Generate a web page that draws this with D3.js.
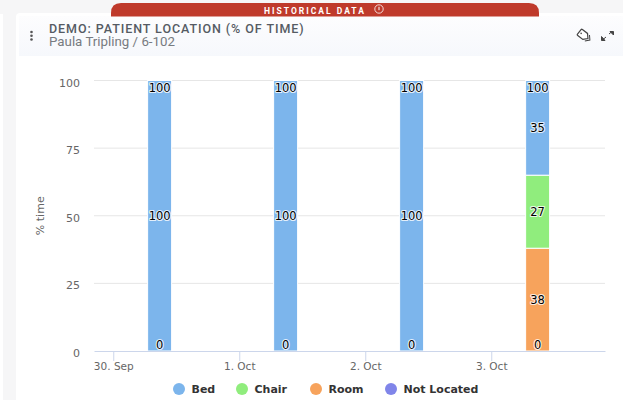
<!DOCTYPE html>
<html>
<head>
<meta charset="utf-8">
<script src="https://d3js.org/d3.v7.min.js"></script>
<style>
  html, body { margin: 0; padding: 0; background: #fff; overflow: hidden; }
</style>
</head>
<body>
<div id="my_dataviz"></div>
<script>
// chart data
const barTimes = [
  Date.UTC(2023, 8, 30, 8, 50),
  Date.UTC(2023, 9, 1, 8, 50),
  Date.UTC(2023, 9, 2, 8, 50),
  Date.UTC(2023, 9, 3, 8, 50)
];
const tickTimes = [
  Date.UTC(2023, 8, 30),
  Date.UTC(2023, 9, 1),
  Date.UTC(2023, 9, 2),
  Date.UTC(2023, 9, 3)
];
const tickLabels = ["30. Sep", "1. Oct", "2. Oct", "3. Oct"];
const bed = [100, 100, 100, 35];
const chair = [0, 0, 0, 27];
const room = [0, 0, 0, 38];
const notLocated = [0, 0, 0, 0];
const totals = [100, 100, 100, 100];
const yTicks = [0, 25, 50, 75, 100];
const seriesNames = ["Bed", "Chair", "Room", "Not Located"];
const seriesColors = ["#7cb5ec", "#90ed7d", "#f7a35c", "#8085e9"];
const domainStart = Date.UTC(2023, 8, 29, 20, 20);
const domainEnd = Date.UTC(2023, 9, 3, 21, 40);

const W = 623, H = 400;
const margin = { top: 80.5, right: 18, bottom: 49, left: 94 },
  width = W - margin.left - margin.right,
  height = H - margin.top - margin.bottom;

const root = d3.select("#my_dataviz")
  .append("svg")
  .attr("width", W)
  .attr("height", H)
  .style("display", "block");

const defs = root.append("defs");
const grad = defs.append("linearGradient")
  .attr("id", "headerGrad")
  .attr("x1", 0).attr("y1", 0).attr("x2", 0).attr("y2", 1);
grad.append("stop").attr("offset", "0%").attr("stop-color", "#fdfdfe");
grad.append("stop").attr("offset", "100%").attr("stop-color", "#f6f8fc");

// page background and card
root.append("rect").attr("width", W).attr("height", H).attr("fill", "#f6f6f7");
root.append("rect").attr("width", 3).attr("y", 14).attr("height", H).attr("fill", "#ffffff");
root.append("rect").attr("x", 16).attr("y", 13).attr("width", W).attr("height", H)
  .attr("rx", 4).attr("fill", "#ffffff");
root.append("rect").attr("x", 19).attr("y", 16).attr("width", W).attr("height", 40)
  .attr("fill", "url(#headerGrad)");

// red banner on top of the card
root.append("path")
  .attr("d", "M111,16.5 V13 Q111,3 121,3 H529 Q539,3 539,13 V16.5 Z")
  .attr("fill", "#bf3a2b");
root.append("text")
  .attr("x", 315).attr("y", 13.5)
  .attr("text-anchor", "middle")
  .attr("fill", "#fff")
  .style("font", "bold 8.5px Roboto")
  .style("letter-spacing", "2px")
  .text("HISTORICAL DATA");
const info = root.append("g").attr("transform", "translate(379,9)");
info.append("circle").attr("r", 4.2).attr("fill", "none").attr("stroke", "#fff").attr("stroke-width", 0.8);
info.append("line").attr("y1", -2.2).attr("y2", 1.2).attr("stroke", "#fff").attr("stroke-width", 1);

// header texts
root.append("text")
  .attr("x", 49).attr("y", 33)
  .attr("fill", "#555b63")
  .style("font", "500 12.5px Roboto")
  .style("letter-spacing", "0.93px")
  .text("DEMO: PATIENT LOCATION (% OF TIME)");
root.append("text")
  .attr("x", 49).attr("y", 45.5)
  .attr("fill", "#777b80")
  .style("font", "13.3px Roboto")
  .text("Paula Tripling / 6-102");

// kebab menu
[32, 35.8, 39.5].forEach(cy => {
  root.append("circle").attr("cx", 31.5).attr("cy", cy).attr("r", 1.3).attr("fill", "#555");
});

// tag icon
root.append("g")
  .attr("transform", "translate(584,35.5) rotate(38)")
  .call(g => {
    g.append("path")
      .attr("d", "M-6,-3.2 Q-6,-3.8 -5,-3.8 H1.5 L5,0 L1.5,3.8 H-5 Q-6,3.8 -6,3.2 Z")
      .attr("fill", "#fff").attr("stroke", "#444").attr("stroke-width", 1.2);
    g.append("path")
      .attr("d", "M4,-3.8 L7.5,0 L4,3.8")
      .attr("fill", "none").attr("stroke", "#444").attr("stroke-width", 1);
    g.append("circle").attr("cx", -3.6).attr("r", 0.8).attr("fill", "#444");
  });

// expand icon
const expand = root.append("g").attr("fill", "#444").attr("stroke", "#444").attr("stroke-width", 1);
expand.append("line").attr("x1", 609).attr("y1", 34).attr("x2", 612).attr("y2", 31.5);
expand.append("path").attr("d", "M610,31.5 H613.5 V35 Z");
expand.append("line").attr("x1", 606).attr("y1", 37).attr("x2", 603).attr("y2", 39.5);
expand.append("path").attr("d", "M601.5,36.5 V40.5 H605 Z");

const svg = root.append("g")
  .attr("transform", `translate(${margin.left},${margin.top})`);

// X axis
const x = d3.scaleTime()
  .domain([domainStart, domainEnd])
  .range([0, width]);

// Y axis
const y = d3.scaleLinear()
  .domain([0, 100])
  .range([height, 0]);

// grid lines
svg.append("g")
  .selectAll("line")
  .data(yTicks.filter(d => d > 0))
  .join("line")
  .attr("x1", 0)
  .attr("x2", width)
  .attr("y1", d => y(d))
  .attr("y2", d => y(d))
  .attr("stroke", "#e6e6e6");

const yAxis = svg.append("g")
  .call(d3.axisLeft(y).tickValues(yTicks).tickSize(0).tickPadding(14));
yAxis.select(".domain").remove();
yAxis.selectAll("text")
  .attr("fill", "#666")
  .attr("dy", "0.5em")
  .style("font", "11px 'DejaVu Sans'");

svg.append("text")
  .attr("transform", `translate(-50,${height / 2}) rotate(-90)`)
  .attr("text-anchor", "middle")
  .attr("fill", "#666")
  .style("font", "11px 'DejaVu Sans'")
  .text("% time");

// stacked bars, Bed on top and Not Located at the bottom
const rows = barTimes.map((t, i) => ({
  time: t,
  "Bed": bed[i],
  "Chair": chair[i],
  "Room": room[i],
  "Not Located": notLocated[i]
}));
const stacked = d3.stack()
  .keys(seriesNames.slice().reverse())(rows);
const color = d3.scaleOrdinal().domain(seriesNames).range(seriesColors);
const barWidth = 24;

svg.append("g")
  .selectAll("g")
  .data(stacked)
  .join("g")
  .attr("fill", d => color(d.key))
  .selectAll("rect")
  .data(d => d)
  .join("rect")
  .attr("x", d => x(d.data.time) - barWidth / 2)
  .attr("y", d => y(d[1]))
  .attr("width", barWidth)
  .attr("height", d => y(d[0]) - y(d[1]))
  .attr("stroke", "#fff")
  .attr("stroke-width", 1);

const xAxis = svg.append("g")
  .attr("transform", `translate(0,${height})`)
  .call(d3.axisBottom(x)
    .tickValues(tickTimes)
    .tickFormat((d, i) => tickLabels[i])
    .tickSize(10)
    .tickSizeOuter(0)
    .tickPadding(2));
xAxis.select(".domain").attr("stroke", "#ccd6eb");
xAxis.selectAll(".tick line").attr("stroke", "#ccd6eb");
xAxis.selectAll("text")
  .attr("fill", "#666")
  .style("font", "10.5px 'DejaVu Sans'");

// data labels with a white outline
function addLabel(px, py, txt) {
  svg.append("text")
    .attr("x", px)
    .attr("y", py)
    .attr("text-anchor", "middle")
    .attr("dominant-baseline", "central")
    .attr("fill", "#000")
    .attr("stroke", "#fff")
    .attr("stroke-opacity", 0.8)
    .attr("stroke-width", 2.2)
    .attr("stroke-linejoin", "round")
    .attr("paint-order", "stroke")
    .style("font", "11.5px 'DejaVu Sans'")
    .text(txt);
}

stacked.forEach(s => {
  s.forEach(d => {
    const v = d[1] - d[0];
    if (v > 0) addLabel(x(d.data.time), y((d[0] + d[1]) / 2), v);
  });
});
// zero label of the bottom series
notLocated.forEach((v, i) => {
  addLabel(x(barTimes[i]), y(v) - 6.5, v);
});
// stack totals at the top of each bar
totals.forEach((v, i) => {
  addLabel(x(barTimes[i]), y(v) + 7.5, v);
});

// legend
const legendX = [179, 242, 316, 391];
const legend = root.append("g")
  .selectAll("g")
  .data(seriesNames)
  .join("g")
  .attr("transform", (d, i) => `translate(${legendX[i]},389)`);
legend.append("circle")
  .attr("r", 6)
  .attr("fill", d => color(d));
legend.append("text")
  .attr("x", 12.5)
  .attr("y", 0)
  .attr("dominant-baseline", "central")
  .attr("fill", "#333")
  .style("font", "bold 11px 'DejaVu Sans'")
  .text(d => d);
</script>
</body>
</html>
